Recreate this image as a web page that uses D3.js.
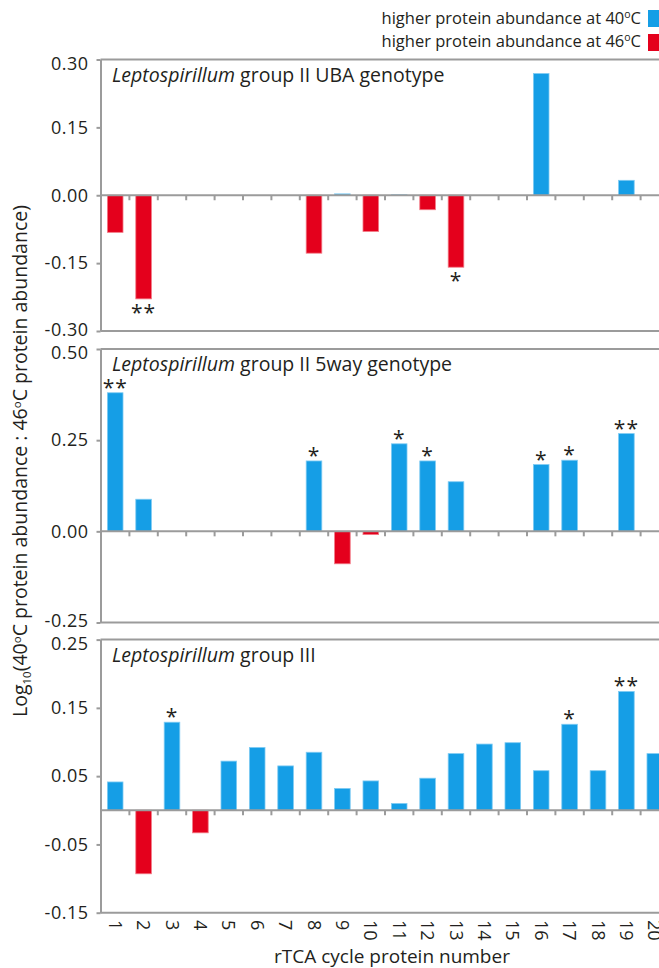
<!DOCTYPE html>
<html>
<head>
<meta charset="utf-8">
<script src="https://cdn.jsdelivr.net/npm/d3@7"></script>
<style>
  body { margin: 0; background: #fff; }
  svg { display: block; }
  text { font-family: "Open Sans", "Noto Sans", sans-serif; fill: #231f20; }
</style>
</head>
<body>
<svg id="chart" width="659" height="968"></svg>
<script>
// rTCA cycle protein numbers (x categories)
const proteins = d3.range(1, 21).map(String);

// Log10(40°C : 46°C protein abundance) per protein, one array per genotype
const ubaValues   = [-0.082, -0.229, 0, 0, 0, 0, 0, -0.128, 0.003, -0.080, 0.001, -0.032, -0.159, 0, 0, 0.269, 0, 0, 0.033, 0];
const fiveWayValues = [0.380, 0.088, 0, 0, 0, 0, 0, 0.193, -0.089, -0.009, 0.240, 0.193, 0.136, 0, 0, 0.183, 0.195, 0, 0.268, 0];
const group3Values  = [0.0415, -0.093, 0.129, -0.033, 0.072, 0.092, 0.065, 0.085, 0.032, 0.043, 0.010, 0.047, 0.083, 0.097, 0.099, 0.058, 0.126, 0.058, 0.174, 0.083];

// significance marks per protein
const ubaStars     = ["", "**", "", "", "", "", "", "", "", "", "", "", "*", "", "", "", "", "", "", ""];
const fiveWayStars = ["**", "", "", "", "", "", "", "*", "", "", "*", "*", "", "", "", "*", "*", "", "**", ""];
const group3Stars  = ["", "", "*", "", "", "", "", "", "", "", "", "", "", "", "", "", "*", "", "**", ""];

// y-axis ticks per panel
const ubaTicks     = [0.30, 0.15, 0.00, -0.15, -0.30];
const fiveWayTicks = [0.50, 0.25, 0.00, -0.25];
const group3Ticks  = [0.25, 0.15, 0.05, -0.05, -0.15];

const panelNames = [
  ["Leptospirillum", " group II UBA genotype"],
  ["Leptospirillum", " group II 5way genotype"],
  ["Leptospirillum", " group III"]
];

const legendLabels = [["higher protein abundance at 40", "C"], ["higher protein abundance at 46", "C"]];

const BLUE = "#159ee6", BLUE_EDGE = "#7fcbf3";
const RED = "#e4001c", RED_EDGE = "#f27a86";
const GRAY = "#9b9b9b";

const svg = d3.select("#chart");
const W = 659;
const axisX = 100.5;

const x = d3.scaleBand()
  .domain(proteins)
  .range([101, 669])
  .paddingInner(0.45)
  .paddingOuter(0.225);

const panels = [
  { values: ubaValues, stars: ubaStars, ticks: ubaTicks, domain: [-0.30, 0.30], top: 59.5, bottom: 331, name: panelNames[0] },
  { values: fiveWayValues, stars: fiveWayStars, ticks: fiveWayTicks, domain: [-0.25, 0.50], top: 349, bottom: 622.5, name: panelNames[1] },
  { values: group3Values, stars: group3Stars, ticks: group3Ticks, domain: [-0.15, 0.25], top: 639.6, bottom: 912.7, name: panelNames[2] }
];

panels.forEach((p, pi) => {
  const y = d3.scaleLinear().domain(p.domain).range([p.bottom, p.top]);
  const g = svg.append("g");

  // frame: top and bottom rules
  [p.top, p.bottom].forEach(yy => {
    g.append("line")
      .attr("x1", axisX).attr("x2", W + 10)
      .attr("y1", yy).attr("y2", yy)
      .attr("stroke", GRAY).attr("stroke-width", 2);
  });

  // left axis; the end labels are nudged inward so neighbouring panels' labels stay apart
  const topTick = d3.max(p.ticks), bottomTick = d3.min(p.ticks);
  const ax = g.append("g")
    .attr("transform", `translate(${axisX},0)`)
    .call(d3.axisLeft(y).tickValues(p.ticks).tickSize(4).tickSizeOuter(0).tickPadding(8)
      .tickFormat(d => d.toFixed(2)));
  ax.select(".domain").attr("stroke", GRAY).attr("stroke-width", 2);
  ax.selectAll(".tick line").attr("stroke", GRAY).attr("stroke-width", 2);
  ax.selectAll(".tick text")
    .attr("font-size", 18)
    .attr("letter-spacing", 0.5)
    .attr("font-family", "\"Open Sans\", sans-serif")
    .attr("fill", "#231f20")
    .attr("y", d => d === topTick ? 4 : (d === bottomTick && pi < panels.length - 1 ? -1.5 : 0));

  // bars
  const data = proteins.map((k, i) => ({ k, v: p.values[i], s: p.stars[i] }));
  g.selectAll("rect.bar")
    .data(data.filter(d => d.v !== 0))
    .join("rect")
    .attr("class", "bar")
    .attr("x", d => x(d.k))
    .attr("width", x.bandwidth())
    .attr("y", d => y(Math.max(0, d.v)))
    .attr("height", d => Math.abs(y(d.v) - y(0)))
    .attr("fill", d => d.v > 0 ? BLUE : RED)
    .attr("stroke", d => d.v > 0 ? BLUE_EDGE : RED_EDGE)
    .attr("stroke-width", 0.8);

  // zero line with category separators
  g.append("line")
    .attr("x1", axisX).attr("x2", W + 10)
    .attr("y1", y(0)).attr("y2", y(0))
    .attr("stroke", GRAY).attr("stroke-width", 2);
  const gap = (x.step() - x.bandwidth()) / 2;
  g.selectAll("line.sep")
    .data(proteins.slice(1))
    .join("line")
    .attr("class", "sep")
    .attr("x1", d => x(d) - gap).attr("x2", d => x(d) - gap)
    .attr("y1", y(0)).attr("y2", y(0) + 5)
    .attr("stroke", GRAY).attr("stroke-width", 2);

  // significance marks
  g.selectAll("text.star")
    .data(data.filter(d => d.s))
    .join("text")
    .attr("class", "star")
    .attr("x", d => x(d.k) + x.bandwidth() / 2)
    .attr("y", d => d.v > 0 ? y(d.v) + 2 : y(d.v) + 21)
    .attr("text-anchor", "middle")
    .attr("font-size", 21)
    .attr("letter-spacing", 1)
    .attr("fill", "#3a3a3a")
    .text(d => d.s);

  // panel name
  const t = g.append("text")
    .attr("x", 112).attr("y", p.top + 22)
    .attr("font-size", 19.5);
  t.append("tspan").attr("font-style", "italic").text(p.name[0]);
  t.append("tspan").text(p.name[1]);

  // category labels under the last panel
  if (pi === panels.length - 1) {
    g.selectAll("text.cat")
      .data(proteins)
      .join("text")
      .attr("class", "cat")
      .attr("transform", d => `translate(${x(d) + x.bandwidth() / 2},920) rotate(90)`)
      .attr("dy", "0.36em")
      .attr("font-size", 18)
      .text(d => d);
  }
});

// x-axis title
svg.append("text")
  .attr("x", 392).attr("y", 963)
  .attr("text-anchor", "middle")
  .attr("font-size", 19)
  .text("rTCA cycle protein number");

// y-axis title
const yt = svg.append("text")
  .attr("transform", "translate(27,461) rotate(-90)")
  .attr("text-anchor", "middle")
  .attr("font-size", 19.5);
yt.append("tspan").text("Log");
yt.append("tspan").attr("font-size", 11.5).attr("dy", 4).text("10");
yt.append("tspan").attr("dy", -4).text("(40");
yt.append("tspan").attr("font-size", 11.5).attr("dy", -6).text("o");
yt.append("tspan").attr("dy", 6).text("C protein abundance : 46");
yt.append("tspan").attr("font-size", 11.5).attr("dy", -6).text("o");
yt.append("tspan").attr("dy", 6).text("C protein abundance)");

// legend
const legendColors = [BLUE, RED];
legendLabels.forEach((lab, i) => {
  const ly = 24 + i * 23;
  const lt = svg.append("text")
    .attr("x", 641).attr("y", ly)
    .attr("text-anchor", "end")
    .attr("font-size", 16.5);
  lt.append("tspan").text(lab[0]);
  lt.append("tspan").attr("font-size", 10.5).attr("dy", -6).text("o");
  lt.append("tspan").attr("dy", 6).text(lab[1]);
  svg.append("rect")
    .attr("x", 648).attr("y", ly - 14 + i * 1)
    .attr("width", 17).attr("height", 17)
    .attr("fill", legendColors[i]);
});
</script>
</body>
</html>
